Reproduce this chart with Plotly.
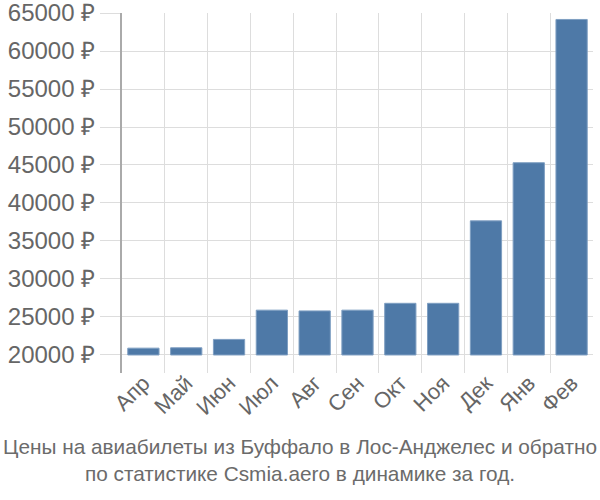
import plotly.graph_objects as go

months = ['Апр', 'Май', 'Июн', 'Июл', 'Авг', 'Сен', 'Окт', 'Ноя', 'Дек', 'Янв', 'Фев']
prices = [20900, 20950, 22050, 25900, 25800, 25900, 26800, 26800, 37650, 45300, 64150]
base_price = 20000
y_ticks = [20000, 25000, 30000, 35000, 40000, 45000, 50000, 55000, 60000, 65000]
y_labels = [f'{v} ₽' for v in y_ticks]

title = 'Цены на авиабилеты из Буффало в Лос-Анджелес и обратно<br>по статистике Csmia.aero в динамике за год.'

fig = go.Figure()
fig.add_trace(go.Bar(
    x=months,
    y=[p - base_price for p in prices],
    base=base_price,
    marker=dict(color='#4e79a7', line=dict(color='#7f9fc2', width=1)),
    width=0.73,
))

fig.update_layout(
    width=600, height=500,
    margin=dict(l=122, r=7, t=13, b=127, autoexpand=False),
    plot_bgcolor='white',
    paper_bgcolor='white',
    showlegend=False,
    font=dict(family='Liberation Sans, Arial, sans-serif', color='#666666'),
)
fig.add_annotation(
    text=title, xref='paper', yref='paper', x=(300 - 122) / 471, y=-(460 - 373) / 360,
    xanchor='center', yanchor='middle', showarrow=False, align='center',
    font=dict(size=20.8, color='#6b6b6b'),
)
fig.update_xaxes(
    type='category', tickson='boundaries', range=[-0.5, 10.5], automargin=False,
    showgrid=True, gridcolor='#dddddd', gridwidth=1,
    ticks='outside', ticklen=0, tickcolor='#dddddd',
    tickangle=-45, tickfont=dict(size=22, color='#666666'),
    ticklabelstandoff=-8,
    showline=False, zeroline=False,
)
fig.update_yaxes(
    range=[17630, 65000], tickvals=y_ticks, ticktext=y_labels, automargin=False,
    showgrid=True, gridcolor='#dddddd', gridwidth=1,
    ticks='outside', ticklen=20, tickcolor='#dddddd',
    tickfont=dict(size=24, color='#666666'), ticklabeloverflow='allow',
    showline=True, linecolor='#aaaaaa', linewidth=2, zeroline=False,
)

# drop the default page margin so the 600x500 figure fills the window
fig.write_html('out.html', config={'displayModeBar': False},
               post_script="document.body.style.margin='0';")
